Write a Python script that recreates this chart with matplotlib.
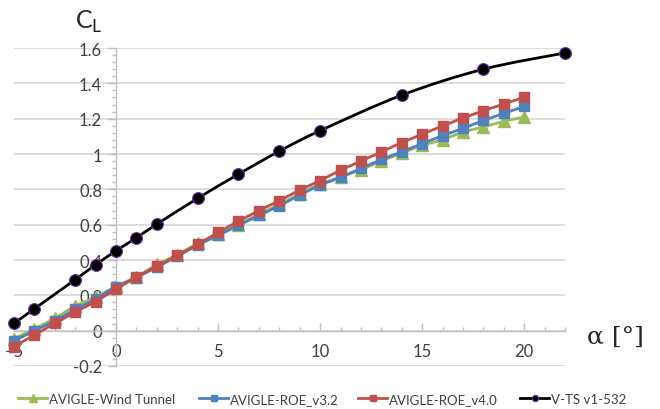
import matplotlib
matplotlib.use("Agg")
import matplotlib.pyplot as plt
from matplotlib.path import Path
from matplotlib.patches import PathPatch
from matplotlib.ticker import MultipleLocator, FuncFormatter

alpha = list(range(-5, 21))
wind_tunnel = [-0.045, 0.01, 0.07, 0.14, 0.19, 0.25, 0.305, 0.375, 0.43, 0.495,
               0.545, 0.60, 0.66, 0.715, 0.775, 0.83, 0.87, 0.91, 0.96, 1.005,
               1.05, 1.08, 1.125, 1.153, 1.185, 1.21]
roe_v32 = [-0.058, 0.0, 0.055, 0.12, 0.18, 0.25, 0.30, 0.36, 0.42, 0.485,
           0.539, 0.596, 0.652, 0.706, 0.768, 0.824, 0.868, 0.918, 0.969, 1.012,
           1.059, 1.104, 1.145, 1.19, 1.23, 1.269]
roe_v40 = [-0.09, -0.024, 0.041, 0.105, 0.165, 0.235, 0.304, 0.364, 0.426, 0.488,
           0.556, 0.62, 0.68, 0.736, 0.796, 0.849, 0.909, 0.959, 1.012, 1.065,
           1.112, 1.159, 1.204, 1.245, 1.283, 1.322]
vts_alpha = [-5, -4, -2, -1, 0, 1, 2, 4, 6, 8, 10, 14, 18, 22]
vts = [0.041, 0.124, 0.289, 0.373, 0.452, 0.526, 0.603, 0.749, 0.886, 1.016,
       1.132, 1.333, 1.48, 1.572]
labels = ["AVIGLE-Wind Tunnel", "AVIGLE-ROE_v3.2", "AVIGLE-ROE_v4.0", "V-TS v1-532"]

plt.rcParams["font.family"] = ["Lato", "DejaVu Sans"]

fig = plt.figure(figsize=(6.6, 4.1), dpi=100)
ax = fig.add_axes([14/660, 43/410, (565-14)/660, (367-49)/410])
ax.set_xlim(-5, 22)
ax.set_ylim(-0.2, 1.6)

for s in ["top", "right"]:
    ax.spines[s].set_visible(False)
ax.spines["left"].set_position(("data", 0))
ax.spines["bottom"].set_position(("data", 0))
for s in ["left", "bottom"]:
    ax.spines[s].set_color("#bfbfbf")
    ax.spines[s].set_linewidth(1.0)

ax.yaxis.set_major_locator(MultipleLocator(0.2))
ax.yaxis.set_minor_locator(MultipleLocator(0.04))
ax.xaxis.set_major_locator(MultipleLocator(5))
ax.xaxis.set_minor_locator(MultipleLocator(1))
ax.yaxis.set_major_formatter(FuncFormatter(lambda v, p: ("%.1f" % v).rstrip("0").rstrip(".") if abs(v) > 1e-9 else "0"))
ax.tick_params(axis="both", which="both", colors="#bfbfbf", labelcolor="#404040", labelsize=12)
ax.tick_params(axis="y", which="major", direction="out", length=6, width=1)
ax.tick_params(axis="y", which="minor", direction="out", length=3, width=1)
ax.tick_params(axis="x", which="major", direction="in", length=6, width=1)
ax.tick_params(axis="x", which="minor", direction="in", length=3, width=1)
ax.tick_params(axis="y", pad=4)
ax.tick_params(axis="x", pad=9)

ax.yaxis.grid(True, which="major", color="#d9d9d9", linewidth=1.3)
ax.set_axisbelow(True)


def smooth_path(xs, ys, t=1/6):
    pts = list(zip(xs, ys))
    verts = [pts[0]]
    codes = [Path.MOVETO]
    n = len(pts)
    for i in range(n - 1):
        p0 = pts[i - 1] if i > 0 else pts[i]
        p1 = pts[i]
        p2 = pts[i + 1]
        p3 = pts[i + 2] if i + 2 < n else pts[i + 1]
        c1 = (p1[0] + (p2[0] - p0[0]) * t, p1[1] + (p2[1] - p0[1]) * t)
        c2 = (p2[0] - (p3[0] - p1[0]) * t, p2[1] - (p3[1] - p1[1]) * t)
        verts += [c1, c2, p2]
        codes += [Path.CURVE4] * 3
    return Path(verts, codes)


l1, = ax.plot(alpha, wind_tunnel, color="#9bbb59", lw=2, marker="^", ms=8,
              label=labels[0], clip_on=False, zorder=3)
l2, = ax.plot(alpha, roe_v32, color="#4f81bd", lw=2, marker="s", ms=6.5,
              label=labels[1], clip_on=False, zorder=4)
l3, = ax.plot(alpha, roe_v40, color="#c0504d", lw=2, marker="s", ms=6.5,
              label=labels[2], clip_on=False, zorder=5)
ax.add_patch(PathPatch(smooth_path(vts_alpha, vts), facecolor="none",
                       edgecolor="black", lw=2, zorder=6, clip_on=False))
l4, = ax.plot(vts_alpha, vts, color="black", lw=2, ls="none", marker="o", ms=8.5,
              mec="#7030a0", mew=0.8, label=labels[3], clip_on=False, zorder=7)
leg_line, = ax.plot([], [], color="black", lw=2, marker="o", ms=6,
                    mec="#7030a0", mew=0.8)

handles = [l1, l2, l3, leg_line]
starts = [18, 199, 358, 520]
for h, lab, x0 in zip(handles, labels, starts):
    fig.legend([h], [lab], loc="center left", bbox_to_anchor=(x0/660, 10/410),
               frameon=False, fontsize=9.5, handlelength=2.2, handletextpad=0.15,
               labelcolor="#404040", markerscale=0.75, borderpad=0, borderaxespad=0)

fig.text(75/660, 1 - 22/410, r"C$_\mathregular{L}$", fontsize=18, color="#262626",
         va="center", ha="left")
fig.text(587/660, 1 - 337/410, "α [°]", fontsize=18, color="#262626",
         va="center", ha="left", family="DejaVu Serif")

fig.savefig("out.png", dpi=100)
